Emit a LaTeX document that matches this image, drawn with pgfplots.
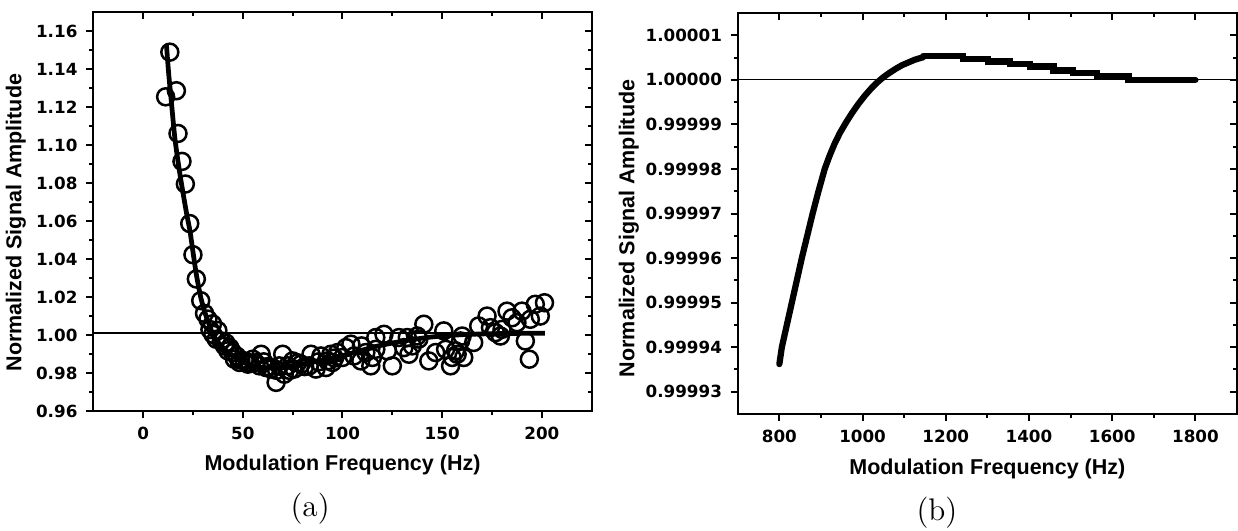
\documentclass[border=0pt]{standalone}
\usepackage{fontspec}
\setsansfont{Liberation Sans}
\newfontfamily\tickfont{DejaVu Sans}
\usepackage{pgfplots}
\pgfplotsset{compat=1.18}

\pgfplotstableread{
x y
13.4 1.149
11.3 1.1255
16.7 1.1287
17.5 1.1062
19.5 1.0915
21.2 1.0796
23.4 1.0588
25.0 1.0424
26.7 1.0296
28.9 1.0182
30.8 1.0115
32.5 1.0085
34.8 1.006
33.5 1.003
35.0 1.0005
36.7 0.9979
37.5 1.0025
39.2 0.997
40.8 0.9944
41.5 0.996
42.5 0.9918
43.5 0.9935
45.0 0.9909
45.8 0.9874
47.0 0.989
48.3 0.9857
49.0 0.987
50.8 0.9865
52.5 0.9848
53.5 0.9855
55.0 0.9874
56.5 0.9855
58.3 0.9839
59.2 0.990
60.5 0.986
61.7 0.983
62.5 0.9835
64.2 0.9822
66.7 0.9752
67.0 0.9815
68.3 0.9839
70.0 0.990
70.8 0.9795
72.5 0.9839
73.5 0.9815
75.0 0.9865
75.8 0.9822
77.5 0.9855
79.2 0.9848
81.0 0.9835
83.3 0.9839
84.2 0.990
86.7 0.9822
88.0 0.986
89.2 0.9891
91.7 0.983
92.5 0.9865
94.2 0.990
95.0 0.9857
96.0 0.988
97.5 0.9909
100.0 0.9883
101.7 0.9935
104.2 0.9953
105.8 0.9891
109.2 0.9865
109.5 0.9944
111.7 0.9909
114.2 0.9839
115.0 0.9883
116.7 0.9988
116.7 0.9926
120.8 1.0005
122.5 0.9918
125.0 0.9839
128.3 0.9988
130.8 0.9935
132.5 0.9988
133.3 0.990
135.0 0.9944
137.5 0.9996
138.3 0.998
140.8 1.0058
143.3 0.9865
146.7 0.9909
150.8 1.0023
151.7 0.9926
154.2 0.9839
155.0 0.9883
156.7 0.9918
157.5 0.990
159.2 0.997
160.0 0.9996
160.8 0.9883
165.8 0.9962
168.3 1.0049
172.5 1.0101
174.2 1.004
176.7 1.0014
179.2 0.9996
180.0 1.0031
182.5 1.0127
185.0 1.0092
187.5 1.0066
190.0 1.0127
191.7 0.997
193.7 0.9874
194.2 1.0084
196.7 1.0163
199.2 1.0101
201.3 1.0171
}\measured

\pgfplotstableread{
x y
11.7 1.153
12.8 1.138
13.9 1.126
15.9 1.104
18.0 1.088
20.0 1.075
22.0 1.063
23.5 1.055
25.0 1.044
26.7 1.032
28.9 1.020
31.0 1.012
33.0 1.006
35.0 1.0005
37.5 0.9965
40.0 0.9937
42.5 0.9912
45.5 0.989
49.0 0.9862
54.0 0.9843
59.0 0.9832
64.0 0.9828
69.0 0.9829
74.0 0.9835
79.0 0.9845
85.0 0.9858
94.0 0.9876
102.0 0.9898
110.0 0.9922
118.0 0.9944
127.0 0.9963
135.0 0.9977
143.0 0.9989
150.0 0.9996
160.0 1.0003
170.0 1.0007
180.0 1.0009
190.0 1.0010
201.5 1.0011
}\fitcurve

% right panel: deviation from 1, in units of 1e-6
\pgfplotstableread{
x y
800 -63.8
806 -60.0
818 -55.0
830 -50.0
842 -45.0
854 -40.0
867 -35.0
880 -30.0
894 -25.0
909 -20.0
920 -17.2
932 -14.5
945 -12.0
960 -9.6
975 -7.4
990 -5.4
1005 -3.6
1020 -2.0
1035 -0.6
1050 0.6
1065 1.6
1080 2.5
1095 3.3
1110 3.9
1125 4.5
1146 5.1
}\rising

\pgfplotstableread{
x y
1146 5.4
1241 4.7
1302 4.1
1354 3.6
1402 3.0
1459 2.1
1506 1.5
1563 0.9
1639 0.0
1800 0.0
}\decay

\pgfplotsset{
  panel/.style={
    scale only axis,
    clip=false,
    axis line style={line width=0.8pt},
    every tick/.style={black, line width=0.8pt},
    major tick length=2.8pt,
    minor tick length=1.6pt,
    minor tick num=1,
    tick label style={font=\tickfont\bfseries\fontsize{6.7}{8}\selectfont},
    /pgf/number format/assume math mode=true,
    /pgf/number format/1000 sep={},
    label style={font=\sffamily\bfseries\fontsize{8.6}{10}\selectfont},
  },
  lowerticks/.style={tick align=outside, xtick pos=left, ytick pos=left},
  upperticks/.style={tick align=inside, xtick pos=right, ytick pos=right,
    xticklabels={}, yticklabels={}},
  leftpanel/.style={panel, at={(0pt,0pt)}, anchor=south west,
    width=199.4pt, height=159.6pt,
    xmin=-25, xmax=225, ymin=0.96, ymax=1.17,
    xtick={0,50,100,150,200},
    ytick={0.96,0.98,1.00,1.02,1.04,1.06,1.08,1.10,1.12,1.14,1.16}},
  rightpanel/.style={panel, at={(257.8pt,-1.1pt)}, anchor=south west,
    width=199.7pt, height=160.4pt,
    xmin=700, xmax=1900, ymin=-75, ymax=15,
    xtick={800,1000,1200,1400,1600,1800},
    ytick={-70,-60,-50,-40,-30,-20,-10,0,10}},
}

\begin{document}
\begin{tikzpicture}
\useasboundingbox (-37.3pt,-47.5pt) rectangle (457.9pt,164.5pt);

% ---------- panel (a) ----------
\begin{axis}[leftpanel, lowerticks,
  yticklabel style={/pgf/number format/.cd, fixed, fixed zerofill, precision=2},
  xlabel={Modulation Frequency (Hz)},
  ylabel={Normalized Signal Amplitude},
  xlabel style={at={(axis description cs:0.5,-0.135)}, anchor=center},
  ylabel style={at={(axis description cs:-0.155,0.473)}, anchor=center},
]
\addplot[black, line width=1pt] coordinates {(-25,1.0012) (201.5,1.0012)};
\addplot[only marks, mark=o, mark size=3.4pt, mark options={line width=1pt, draw=black}] table {\measured};
\addplot[black, line width=1.9pt, smooth, tension=0.4] table {\fitcurve};
\node[font=\fontsize{12.5}{14}\selectfont] at (axis description cs:0.435,-0.245) {(a)};
\end{axis}
\begin{axis}[leftpanel, upperticks]
\end{axis}

% ---------- panel (b) ----------
\begin{axis}[rightpanel, lowerticks,
  yticklabels={0.99993,0.99994,0.99995,0.99996,0.99997,0.99998,0.99999,1.00000,1.00001},
  xlabel={Modulation Frequency (Hz)},
  ylabel={Normalized Signal Amplitude},
  xlabel style={at={(axis description cs:0.5,-0.137)}, anchor=center},
  ylabel style={at={(axis description cs:-0.218,0.463)}, anchor=center},
]
\addplot[black, line width=0.5pt] coordinates {(700,0) (1900,0)};
\addplot[black, line width=2.5pt, line join=round, line cap=round] table {\rising};
\addplot[black, line width=2.5pt, const plot, line cap=round] table {\decay};
\node[font=\fontsize{12.5}{14}\selectfont] at (axis description cs:0.399,-0.245) {(b)};
\end{axis}
\begin{axis}[rightpanel, upperticks]
\end{axis}
\end{tikzpicture}
\end{document}
